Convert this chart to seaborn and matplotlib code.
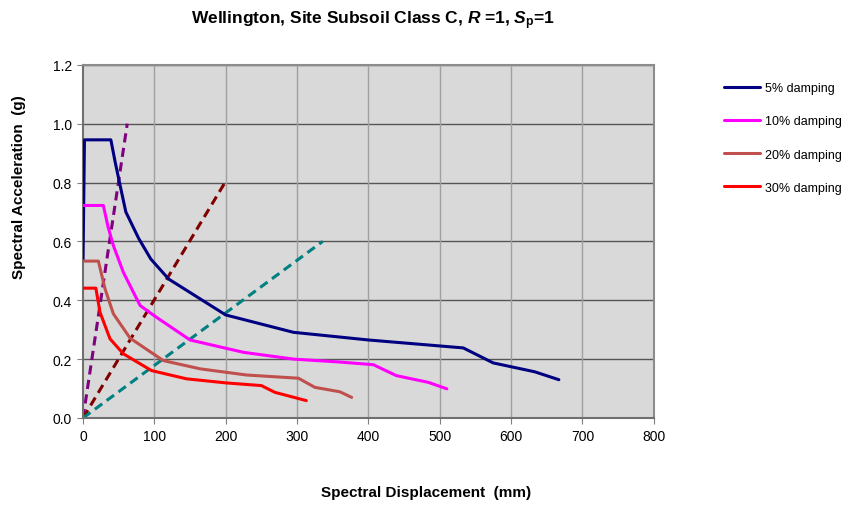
import numpy as np
import pandas as pd
import seaborn as sns
import matplotlib.pyplot as plt

# Capacity spectrum values (Sd in mm, Sa in g)
sd_5 = [0, 2, 39, 45, 52, 60, 78, 95, 120, 200, 295, 400, 533, 575, 633, 667]
sa_5 = [0.535, 0.945, 0.945, 0.87, 0.79, 0.70, 0.61, 0.54, 0.472, 0.35, 0.291, 0.265, 0.238, 0.187, 0.157, 0.13]

sd_10 = [0, 28.5, 35, 42.5, 56.5, 80, 103, 150, 225, 295, 360, 407, 439, 484, 510]
sa_10 = [0.722, 0.722, 0.65, 0.586, 0.495, 0.382, 0.342, 0.265, 0.223, 0.20, 0.19, 0.181, 0.144, 0.121, 0.099]

sd_20 = [0, 21.5, 30.8, 42.5, 66, 112.5, 164, 229, 302, 325, 360, 376.5]
sa_20 = [0.533, 0.533, 0.439, 0.354, 0.271, 0.195, 0.167, 0.146, 0.135, 0.104, 0.089, 0.07]

sd_30 = [0, 18, 23.8, 37.8, 56.5, 96, 145, 201, 250, 269, 313]
sa_30 = [0.441, 0.441, 0.359, 0.269, 0.218, 0.161, 0.133, 0.119, 0.11, 0.087, 0.059]

# Constant-period lines
period_sd = [[0, 62], [0, 199], [0, 336]]
period_sa = [[0, 1.0], [0, 0.8], [0, 0.6]]
period_colors = ["#800080", "#800000", "#008080"]

labels = ["5% damping", "10% damping", "20% damping", "30% damping"]
colors = ["#000080", "#FF00FF", "#C0504D", "#FF0000"]

frames = []
for lab, sd, sa in zip(labels, [sd_5, sd_10, sd_20, sd_30], [sa_5, sa_10, sa_20, sa_30]):
    frames.append(pd.DataFrame({"Sd": sd, "Sa": sa, "damping": lab}))
df = pd.concat(frames, ignore_index=True)

sns.set_style("white")
plt.rcParams["font.family"] = ["Liberation Sans", "DejaVu Sans"]
plt.rcParams["mathtext.fontset"] = "custom"
plt.rcParams["mathtext.rm"] = "Liberation Sans:bold"
plt.rcParams["mathtext.it"] = "Liberation Sans:italic:bold"
plt.rcParams["text.color"] = "black"
plt.rcParams["xtick.labelcolor"] = "black"
plt.rcParams["ytick.labelcolor"] = "black"

fig = plt.figure(figsize=(8.43, 5.06), dpi=100)
ax = fig.add_axes([0.0985, 0.172, 0.677, 0.698])
ax.set_facecolor("#D9D9D9")

for sd, sa, c in zip(period_sd, period_sa, period_colors):
    ax.plot(sd, sa, color=c, lw=2.2, ls=(0, (3, 1.8)), zorder=2)

sns.lineplot(data=df, x="Sd", y="Sa", hue="damping", palette=colors, sort=False,
             estimator=None, lw=2.2, ax=ax, zorder=3)

ax.set_xlim(0, 800)
ax.set_ylim(0, 1.2)
ax.set_xticks(np.arange(0, 801, 100))
ax.set_yticks(np.arange(0, 1.21, 0.2))
ax.set_yticklabels([f"{v:.1f}" for v in np.arange(0, 1.21, 0.2)])
ax.tick_params(axis="both", labelsize=10, direction="out", length=4, color="#808080",
               left=True, bottom=True, pad=4)

for y in np.arange(0.2, 1.21, 0.2):
    ax.axhline(y, color="#555555", lw=1.0, zorder=1)
for x in np.arange(100, 801, 100):
    ax.axvline(x, color="#A0A0A0", lw=1.0, zorder=1)

for side in ["top", "right"]:
    ax.spines[side].set_color("#8C8C8C")
    ax.spines[side].set_linewidth(1.5)
for side in ["left", "bottom"]:
    ax.spines[side].set_color("#707070")
    ax.spines[side].set_linewidth(1.5)

ax.set_xlabel("")
ax.set_ylabel("")
fig.text(0.505, 0.025, "Spectral Displacement  (mm)", ha="center", va="center",
         fontsize=11, fontweight="bold")
fig.text(0.022, 0.63, "Spectral Acceleration  (g)", ha="center", va="center",
         rotation=90, fontsize=11, fontweight="bold")
fig.text(0.442, 0.959, "Wellington, Site Subsoil Class C, $\\it{R}$ =1, $\\it{S}_{\\rm p}$=1",
         ha="center", va="center", fontsize=12.5, fontweight="bold")

handles, labs = ax.get_legend_handles_labels()
ax.legend(handles, labs, loc="upper left", bbox_to_anchor=(0.845, 0.858),
          bbox_transform=fig.transFigure, frameon=False, fontsize=9,
          handlelength=2.9, handletextpad=0.4, labelspacing=1.7)

fig.savefig("out.png", dpi=100)
